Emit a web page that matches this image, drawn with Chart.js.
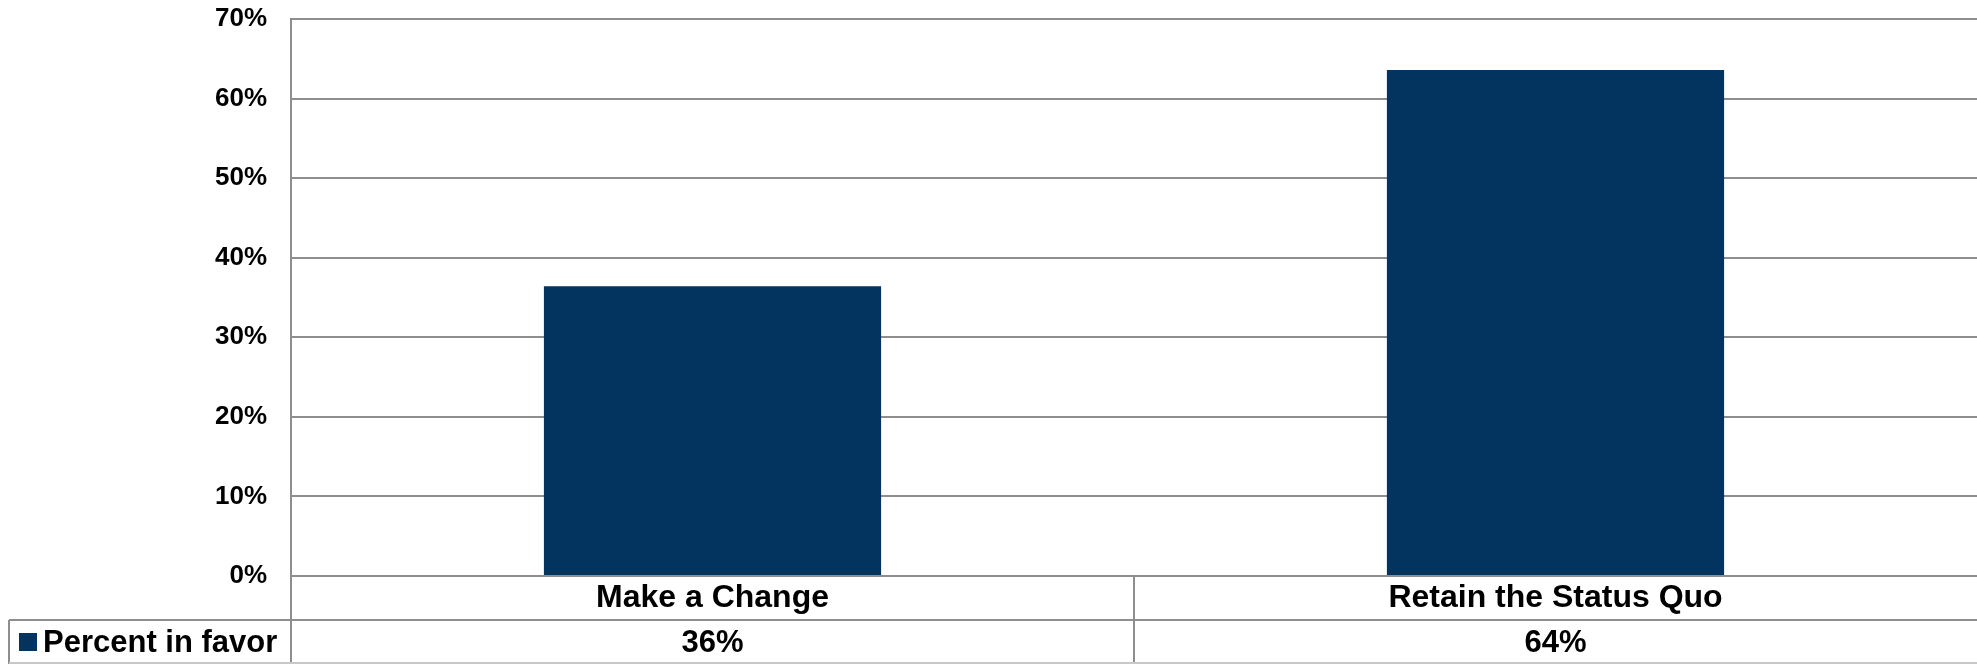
<!DOCTYPE html>
<html>
<head>
<meta charset="utf-8">
<script src="https://cdn.jsdelivr.net/npm/chart.js@4.4.1/dist/chart.umd.min.js"></script>
<style>
  html, body { margin: 0; padding: 0; background: #fff; }
  #wrap { width: 1977px; height: 664px; }
</style>
</head>
<body>
<div id="wrap"><canvas id="myChart"></canvas></div>
<script>
// donnees du graphique
const categories = ["Make a Change", "Retain the Status Quo"];
const percentInFavor = [36.4, 63.6];
const tableValues = ["36%", "64%"];
const seriesName = "Percent in favor";

const FONT = "'Liberation Sans', Arial, sans-serif";
const GRID = "#8e8e8e";
const BAR = "#02345f";

// dessine le tableau de donnees sous le graphique
const dataTable = {
  id: "dataTable",
  afterDraw(chart) {
    const c = chart.ctx;
    const x = chart.scales.x;
    const area = chart.chartArea;
    const bottom = chart.height;
    const rowY = area.bottom + 44;
    c.save();
    c.strokeStyle = GRID;
    c.lineWidth = 2;
    c.beginPath();
    // ligne entre les deux rangees
    c.moveTo(9, rowY); c.lineTo(area.right, rowY);
    // bord gauche du graphique prolonge
    c.moveTo(area.left, area.bottom); c.lineTo(area.left, bottom);
    // cellule de la legende
    c.moveTo(9, rowY); c.lineTo(9, bottom);
    // separateurs entre categories
    for (let i = 1; i < categories.length; i++) {
      const sx = (x.getPixelForValue(i - 1) + x.getPixelForValue(i)) / 2;
      c.moveTo(sx, area.bottom); c.lineTo(sx, bottom);
    }
    c.stroke();
    c.strokeStyle = "#c8c8c8";
    c.beginPath();
    c.moveTo(9, bottom - 1); c.lineTo(area.right, bottom - 1);
    c.stroke();

    c.fillStyle = "#000";
    c.textAlign = "center";
    c.textBaseline = "middle";
    categories.forEach((cat, i) => {
      const cx = x.getPixelForValue(i);
      c.font = "bold 32px " + FONT;
      c.fillText(cat, cx, area.bottom + 22);
      c.font = "bold 31px " + FONT;
      c.fillText(tableValues[i], cx, rowY + 23);
    });
    // legende
    c.fillStyle = BAR;
    c.fillRect(19, rowY + 13, 18, 18);
    c.fillStyle = "#000";
    c.textAlign = "left";
    c.font = "bold 31px " + FONT;
    c.fillText(seriesName, 43, rowY + 23);
    c.restore();
  }
};

const ctx = document.getElementById("myChart").getContext("2d");
const chart = new Chart(ctx, {
  type: "bar",
  data: {
    labels: categories,
    datasets: [
      {
        label: seriesName,
        data: percentInFavor,
        backgroundColor: BAR,
        borderWidth: 0,
        barPercentage: 0.4,
        categoryPercentage: 1
      }
    ]
  },
  options: {
    responsive: true,
    maintainAspectRatio: false,
    animation: false,
    layout: { padding: 0 },
    plugins: {
      legend: { display: false },
      tooltip: { enabled: false }
    },
    scales: {
      x: {
        grid: { display: false },
        border: { display: false },
        ticks: { display: false },
        afterFit(scale) { scale.height = 88; }
      },
      y: {
        min: 0,
        max: 70,
        ticks: {
          stepSize: 10,
          padding: 24,
          color: "#000",
          font: { family: FONT, size: 26, weight: "bold" },
          callback: (v) => v + "%"
        },
        grid: { color: GRID, lineWidth: 2, drawTicks: false },
        border: { color: GRID, width: 2 },
        afterFit(scale) {
          scale.width = 291;
          scale.paddingTop = 19;
          scale.paddingBottom = 0;
        }
      }
    }
  },
  plugins: [dataTable]
});
</script>
</body>
</html>
